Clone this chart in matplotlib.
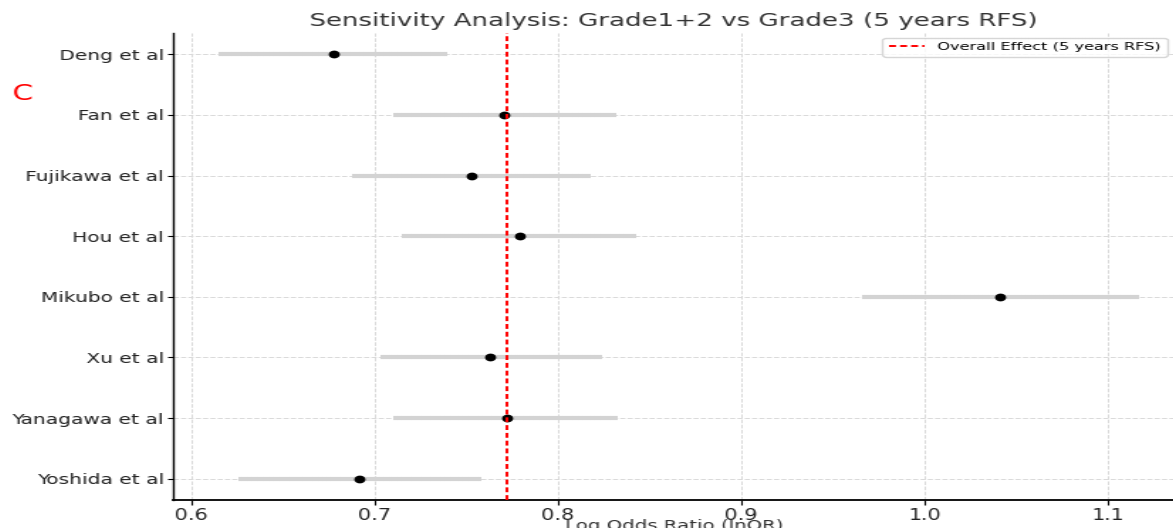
import numpy as np
import matplotlib.pyplot as plt

studies = ['Deng et al', 'Fan et al', 'Fujikawa et al', 'Hou et al',
           'Mikubo et al', 'Xu et al', 'Yanagawa et al', 'Yoshida et al']
log_or = [0.678, 0.771, 0.753, 0.779, 1.041, 0.763, 0.772, 0.692]
ci_lower = [0.615, 0.710, 0.688, 0.715, 0.966, 0.703, 0.710, 0.626]
ci_upper = [0.740, 0.832, 0.818, 0.843, 1.117, 0.824, 0.833, 0.758]
overall = 0.772

# drawn narrow, then widened to the final 1173 px
W_OUT, H_OUT = 1173, 528
STRETCH = 1.42
w0 = int(round(W_OUT / STRETCH))

fig = plt.figure(figsize=(w0 / 100, H_OUT / 100), dpi=100)
ax = fig.add_axes([0.1483, 0.053, 0.852, 0.8845])

ypos = list(range(len(studies)))
for y, lo, hi in zip(ypos, ci_lower, ci_upper):
    ax.plot([lo, hi], [y, y], color='#d3d3d3', lw=3, solid_capstyle='butt', zorder=2)
ax.plot(log_or, ypos, 'o', color='black', ms=4.6, zorder=3)
ax.axvline(overall, color='red', ls='--', lw=1.4, dashes=(2.5, 1.5),
           label='Overall Effect (5 years RFS)', zorder=4)

ax.set_yticks(ypos)
ax.set_yticklabels(studies, fontsize=10.2, color='#222222')
ax.invert_yaxis()
ax.set_xlim(0.5905, 1.136)
ax.set_xticks([0.6, 0.7, 0.8, 0.9, 1.0, 1.1])
ax.tick_params(axis='x', labelsize=10.5, labelcolor='#222222', pad=2)
ax.tick_params(axis='y', pad=2, length=3)
ax.grid(True, ls='--', color='#d9d9d9', lw=0.7, zorder=0)
ax.set_axisbelow(True)
for s in ['top', 'right']:
    ax.spines[s].set_visible(False)
ax.spines['left'].set_linewidth(1.0)
ax.spines['bottom'].set_linewidth(1.3)

ax.set_title('Sensitivity Analysis: Grade1+2 vs Grade3 (5 years RFS)',
             fontsize=13.2, color='#333333', pad=5)
ax.set_xlabel('Log Odds Ratio (lnOR)', fontsize=10, color='#333333', labelpad=-2.5)
ax.legend(loc='upper right', fontsize=8.2, frameon=True, borderaxespad=0.4,
          handlelength=2.2)

fig.text(0.011, 0.81, 'C', color='red', fontsize=15, family='Liberation Sans Narrow')

fig.canvas.draw()
img = np.asarray(fig.canvas.buffer_rgba()).astype(float) / 255.0
h, w = img.shape[:2]
xs = np.linspace(0, w - 1, W_OUT)
i0 = np.floor(xs).astype(int)
i1 = np.minimum(i0 + 1, w - 1)
f = (xs - i0)[None, :, None]
wide = img[:, i0] * (1 - f) + img[:, i1] * f
plt.imsave('out.png', np.clip(wide, 0, 1))
